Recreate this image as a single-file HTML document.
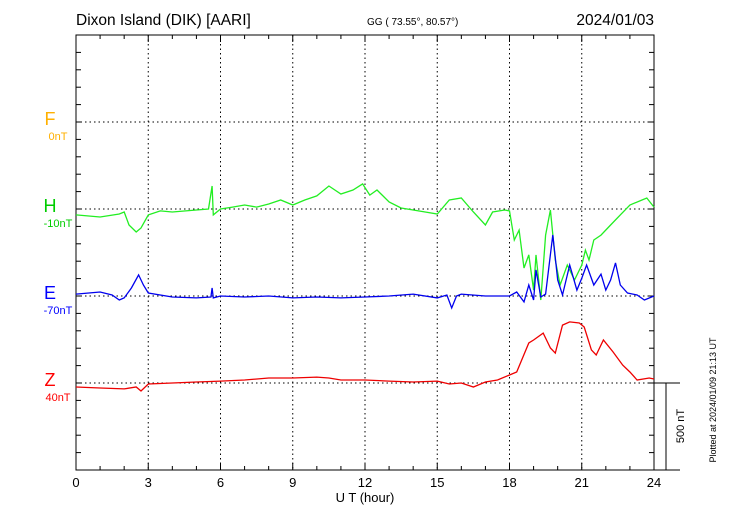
<!DOCTYPE html>
<html><head><meta charset="utf-8"><style>
body{margin:0;background:#fff}
svg{font-family:"Liberation Sans",sans-serif;display:block}
</style></head><body>
<svg id="c" width="730" height="520">
<text x="76" y="25" font-size="15.5">Dixon Island (DIK)  [AARI]</text>
<text x="367" y="25" font-size="10">GG ( 73.55°,  80.57°)</text>
<text x="654" y="25" font-size="15.5" text-anchor="end">2024/01/03</text>
<text x="365" y="502" font-size="13" text-anchor="middle">U T (hour)</text>
<text x="716" y="400" font-size="9" text-anchor="middle" transform="rotate(-90 716 400)">Plotted at 2024/01/09 21:13 UT</text>
<text x="684" y="426" font-size="11" text-anchor="middle" transform="rotate(-90 684 426)">500 nT</text>
<g id="g"></g>
</svg>
<script>
const hTimes=[0,1,1.8,2,2.2,2.5,2.7,3,3.5,4,5,5.5,5.65,5.7,6,6.5,7,7.5,8,8.5,9,9.5,10,10.5,11,11.5,11.9,12.2,12.5,13,13.5,14,14.5,15,15.5,16,16.5,17,17.3,17.8,18,18.2,18.4,18.6,18.8,19,19.1,19.3,19.5,19.7,19.9,20.1,20.4,20.7,21,21.15,21.3,21.5,21.8,22.2,22.6,23,23.5,23.7,24];
const hVals=[-34,-46,-29,-17,-92,-132,-109,-34,-11,-17,-6,0,132,-34,0,11,23,11,29,52,23,52,75,132,86,109,144,80,109,40,6,-6,-17,-29,52,63,-17,-92,-17,-6,-11,-178,-121,-339,-264,-466,-264,-523,-150,-6,-293,-437,-322,-408,-322,-236,-293,-178,-150,-92,-34,23,52,63,11];
const eTimes=[0,1,1.5,1.8,2,2.3,2.6,2.8,3,4,5,5.6,5.65,5.7,6,7,8,9,10,11,12,13,14,15,15.4,15.6,15.8,16,17,17.5,18,18.3,18.6,18.8,19,19.1,19.3,19.5,19.8,20,20.2,20.5,20.8,21,21.2,21.5,21.8,22,22.2,22.4,22.6,22.9,23.3,23.6,24];
const eVals=[11,23,6,-23,-11,46,121,63,17,-6,-11,-6,46,-11,0,-6,0,-11,-6,-11,-6,0,11,-11,6,-69,0,11,0,0,0,23,-34,63,-23,150,-6,11,351,92,6,178,34,103,178,63,126,34,92,190,63,17,6,-23,0];
const zTimes=[0,1,2,2.5,2.7,3,4,5,6,7,8,9,10,10.5,11,12,13,14,15,15.5,16,16.5,17,17.5,18,18.3,18.8,19,19.4,19.7,19.9,20.2,20.5,20.9,21.1,21.4,21.6,21.9,22.3,22.7,23,23.3,23.8,24];
const zVals=[-23,-29,-34,-23,-46,-6,0,6,11,17,29,29,34,29,17,17,11,6,11,-6,0,-23,6,17,46,63,230,247,287,201,172,333,351,345,322,190,161,247,178,103,63,17,29,23];
const xTicks=[0,3,6,9,12,15,18,21,24];
const X0=76,X1=654,Y0=35,Y1=470,PXNT=87/500;
const xs=t=>X0+(X1-X0)*t/24;
const g=document.getElementById('g');
const NS='http://www.w3.org/2000/svg';
function mk(tag,attrs){const e=document.createElementNS(NS,tag);for(const k in attrs)e.setAttribute(k,attrs[k]);g.appendChild(e);return e;}
for(const y of [122,209,296,383]){const l=mk('line',{x1:X0,x2:X1,y1:y,y2:y,stroke:'#000','stroke-dasharray':'1.5,3'});

}
for(const t of xTicks.slice(1,-1)){const l=mk('line',{x1:xs(t),x2:xs(t),y1:Y0,y2:Y1,stroke:'#000','stroke-dasharray':'1.5,3'});

}
const fr=mk('rect',{x:X0,y:Y0,width:X1-X0,height:Y1-Y0,fill:'none',stroke:'#000'});


for(let h=0;h<=24;h++){const L=h%3==0?7:4;
mk('line',{x1:xs(h),x2:xs(h),y1:Y0,y2:Y0+L,stroke:'#000'});
mk('line',{x1:xs(h),x2:xs(h),y1:Y1,y2:Y1-L,stroke:'#000'});}
for(let i=0;i<=25;i++){const y=Y0+i*17.4;
mk('line',{x1:X0,x2:X0+5,y1:y,y2:y,stroke:'#000'});
mk('line',{x1:X1,x2:X1-5,y1:y,y2:y,stroke:'#000'});}
for(const t of xTicks){const tx=mk('text',{x:xs(t),y:487,'font-size':13,'text-anchor':'middle'});tx.textContent=t;

}
const sb=mk('path',{d:'M654 383H680M666 383V470M654 470H680',stroke:'#000',fill:'none'});


const labs=[['F','0nT',122,'#ffb000'],['H','-10nT',209,'#00cc00'],['E','-70nT',296,'#0000ff'],['Z','40nT',383,'#ff0000']];
for(const [n,v,y,c] of labs){const a=mk('text',{x:50,y:y+3,'font-size':18,fill:c,'text-anchor':'middle'});a.textContent=n;


const b=mk('text',{x:58,y:y+18,'font-size':11,fill:c,'text-anchor':'middle'});b.textContent=v;

}
function series(ts,vs,base,col,name){const d=ts.map((t,i)=>(i?'L':'M')+xs(t).toFixed(1)+' '+(base-vs[i]*PXNT).toFixed(1)).join('');
const p=mk('path',{d:d,stroke:col,fill:'none','stroke-width':1.3});

}
series(hTimes,hVals,209,'#22ee22','h-trace');
series(eTimes,eVals,296,'#0000ee','e-trace');
series(zTimes,zVals,383,'#ee0000','z-trace');
</script>
</body></html>
